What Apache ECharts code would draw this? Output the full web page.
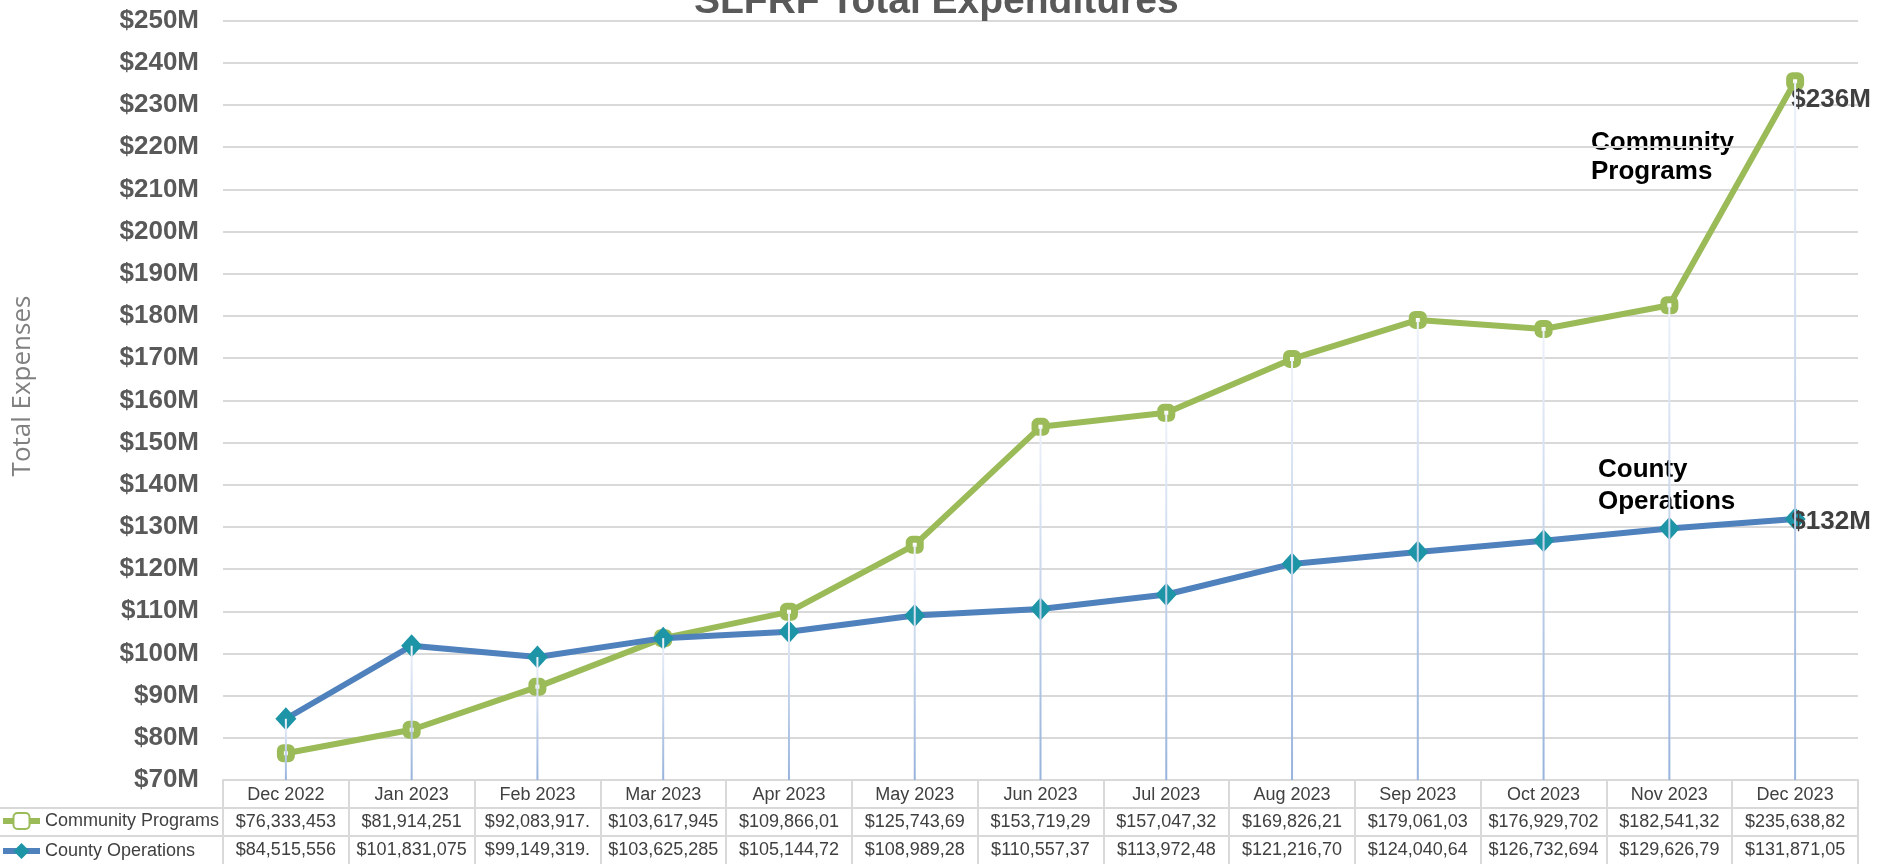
<!DOCTYPE html>
<html>
<head>
<meta charset="utf-8">
<script src="https://cdn.jsdelivr.net/npm/echarts@6/dist/echarts.min.js"></script>
<style>html,body{margin:0;padding:0;background:#fff}#c{width:1892px;height:864px}</style>
</head>
<body>
<div id="c"></div>
<script>
const categories = ['Dec 2022','Jan 2023','Feb 2023','Mar 2023','Apr 2023','May 2023','Jun 2023','Jul 2023','Aug 2023','Sep 2023','Oct 2023','Nov 2023','Dec 2023'];
const communityPrograms = [76333453, 81914251, 92083917, 103617945, 109866010, 125743690, 153719290, 157047320, 169826210, 179061030, 176929702, 182541320, 235638820];
const countyOperations = [84515556, 101831075, 99149319, 103625285, 105144720, 108989280, 110557370, 113972480, 121216700, 124040640, 126732694, 129626790, 131871050];
const communityTableLabels = ['$76,333,453','$81,914,251','$92,083,917.','$103,617,945','$109,866,01','$125,743,69','$153,719,29','$157,047,32','$169,826,21','$179,061,03','$176,929,702','$182,541,32','$235,638,82'];
const countyTableLabels = ['$84,515,556','$101,831,075','$99,149,319.','$103,625,285','$105,144,72','$108,989,28','$110,557,37','$113,972,48','$121,216,70','$124,040,64','$126,732,694','$129,626,79','$131,871,05'];
const yMin = 70000000, yMax = 250000000, yStep = 10000000;

const FONT = '"Liberation Sans", Arial, sans-serif';
const BORDER = '#d9d9d9';
const chart = echarts.init(document.getElementById('c'));
const last = categories.length - 1;
const dropData = categories.map((c, i) => [i, Math.max(communityPrograms[i], countyOperations[i])]);
const fmtM = v => '$' + Math.round(v / 1e6) + 'M';

function withEndLabel(arr, offY) {
  return arr.map((v, i) => i === last ? {
    value: v,
    label: {
      show: true, position: 'inside', offset: [36, offY],
      formatter: p => fmtM(p.value),
      fontFamily: FONT, fontWeight: 'bold', fontSize: 26, color: '#404040'
    }
  } : v);
}

const tableAxis = (offset, labels, margin, showTick) => ({
  type: 'category', data: categories, position: 'bottom', offset: offset,
  axisLine: { show: true, lineStyle: { color: BORDER, width: 2 } },
  axisTick: { show: showTick, length: 84, lineStyle: { color: BORDER, width: 2 } },
  axisLabel: {
    interval: 0, margin: margin, fontFamily: FONT, fontSize: 18, color: '#404040',
    formatter: (v, i) => labels ? labels[i] : v
  },
  splitLine: { show: false }
});

chart.setOption({
  animation: false,
  backgroundColor: '#fff',
  title: {
    text: 'SLFRF Total Expenditures', left: 689, top: -22,
    textStyle: { fontFamily: FONT, fontWeight: 'bold', fontSize: 39, color: '#595959' }
  },
  grid: { left: 223, right: 34, top: 20.7, bottom: 84 },
  legend: {
    data: ['Community Programs', 'County Operations'],
    orient: 'vertical', left: 0, top: 812, padding: 0,
    itemWidth: 37, itemHeight: 20, itemGap: 12,
    lineStyle: { width: 6 },
    textStyle: { fontFamily: FONT, fontSize: 18, color: '#404040' }
  },
  xAxis: [
    tableAxis(0, null, 6, true),
    tableAxis(28, communityTableLabels, 5, false),
    tableAxis(56, countyTableLabels, 5, false)
  ],
  yAxis: {
    type: 'value', min: yMin, max: yMax, interval: yStep,
    axisLine: { show: false }, axisTick: { show: false },
    axisLabel: {
      margin: 24, formatter: v => fmtM(v),
      fontFamily: FONT, fontWeight: 'bold', fontSize: 26, color: '#595959'
    },
    splitLine: { lineStyle: { color: BORDER, width: 2 } }
  },
  graphic: [
    { type: 'line', shape: { x1: 0, y1: 808, x2: 223, y2: 808 }, style: { stroke: BORDER, lineWidth: 2 } },
    { type: 'line', shape: { x1: 0, y1: 836, x2: 223, y2: 836 }, style: { stroke: BORDER, lineWidth: 2 } },
    { type: 'text', x: 23, y: 386, rotation: Math.PI / 2,
      style: { text: 'Total Expenses', x: 0, y: 0, fontFamily: '"Open Sans", sans-serif', fontSize: 26, fill: '#808080', align: 'center', verticalAlign: 'middle' } },
    { type: 'text', left: 1591, top: 128,
      style: { text: 'Community\nPrograms', fontFamily: FONT, fontWeight: 'bold', fontSize: 26, lineHeight: 29, fill: '#000' } },
    { type: 'text', left: 1598, top: 454,
      style: { text: 'County\nOperations', fontFamily: FONT, fontWeight: 'bold', fontSize: 26, lineHeight: 32, fill: '#000' } }
  ],
  series: [
    {
      name: 'Community Programs', type: 'line', data: withEndLabel(communityPrograms, 19),
      symbol: 'roundRect', symbolSize: 11, showAllSymbol: true,
      lineStyle: { color: '#9BBB59', width: 6 },
      itemStyle: { color: '#ffffff', borderColor: '#9BBB59', borderWidth: 7 },
      z: 3
    },
    {
      name: 'County Operations', type: 'line', data: withEndLabel(countyOperations, 3),
      symbol: 'diamond', symbolSize: [21, 23], showAllSymbol: true,
      lineStyle: { color: '#4F81BD', width: 6 },
      itemStyle: { color: '#1D95A6' },
      z: 4
    },
    {
      name: 'drop', type: 'custom', data: dropData, z: 5, silent: true,
      renderItem: (params, api) => {
        const top = api.coord([api.value(0), api.value(1)]);
        const bot = api.coord([api.value(0), yMin]);
        return {
          type: 'line',
          shape: { x1: top[0], y1: top[1], x2: bot[0], y2: bot[1] },
          style: {
            lineWidth: 2,
            stroke: { type: 'linear', global: true, x: top[0], y: top[1], x2: bot[0], y2: bot[1],
              colorStops: [{ offset: 0, color: '#eef2fa' }, { offset: 1, color: '#97b3dc' }] }
          }
        };
      }
    }
  ]
});
</script>
</body>
</html>
